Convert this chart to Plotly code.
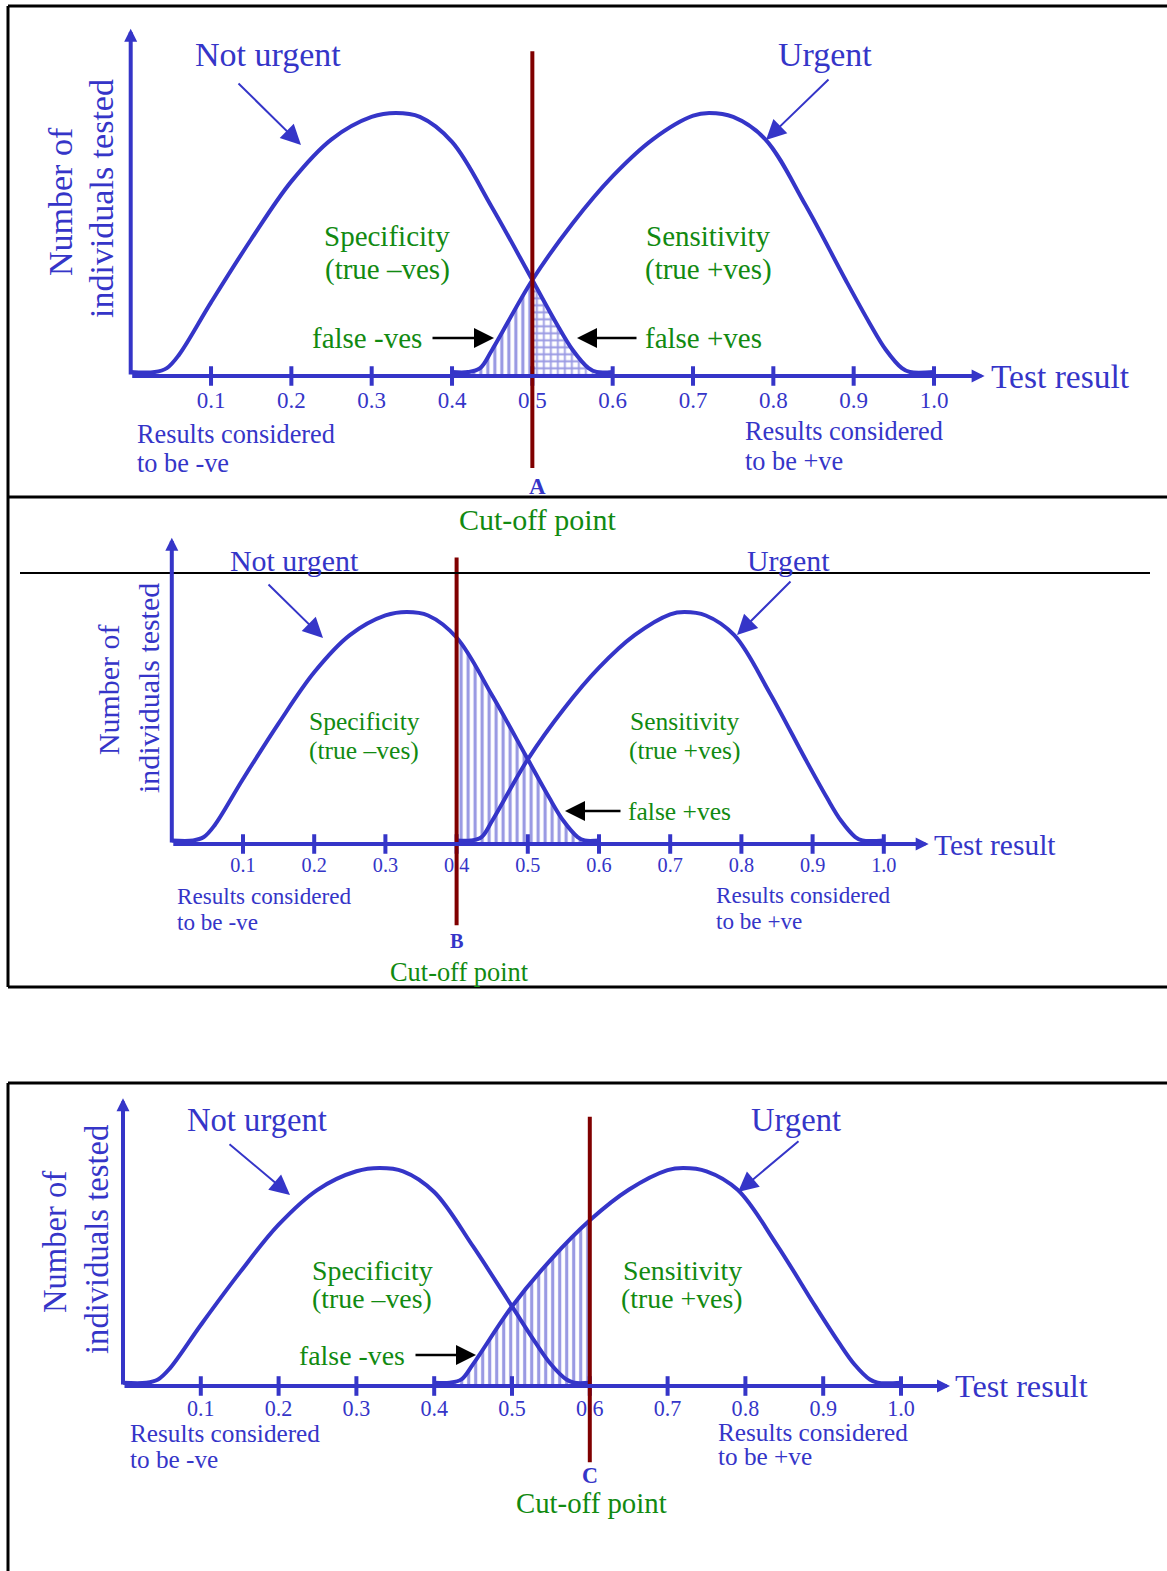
import plotly.graph_objects as go

W, H = 1167, 1571

# ---------------- data ----------------
TICK_VALUES = [0.1, 0.2, 0.3, 0.4, 0.5, 0.6, 0.7, 0.8, 0.9, 1.0]
TICK_LABELS = ["0.1", "0.2", "0.3", "0.4", "0.5", "0.6", "0.7", "0.8", "0.9", "1.0"]

NOT_URGENT_X = [0.00, 0.03, 0.045, 0.06, 0.10, 0.15, 0.20, 0.25, 0.30, 0.33, 0.36, 0.40, 0.45, 0.50, 0.53, 0.55, 0.57, 0.58, 0.60]
NOT_URGENT_Y = [1.5, 1.5, 3.0, 8.0, 28.0, 52.0, 74.0, 90.0, 98.5, 100.0, 98.5, 89.0, 64.0, 36.5, 20.0, 10.0, 3.0, 1.5, 1.5]

URGENT_X = [0.40, 0.42, 0.435, 0.45, 0.50, 0.55, 0.60, 0.65, 0.70, 0.72, 0.75, 0.79, 0.84, 0.89, 0.92, 0.94, 0.96, 0.97, 1.00]
URGENT_Y = [1.5, 1.5, 3.0, 10.0, 36.5, 58.0, 76.0, 90.0, 99.0, 100.0, 98.5, 90.0, 65.0, 36.5, 20.0, 10.0, 3.0, 1.5, 1.5]

CUTOFFS = [0.5, 0.4, 0.6]
CUTOFF_LETTERS = ["A", "B", "C"]

# hatched regions per panel: (curve, side relative to cut-off, pattern)
HATCHES = [
    [("urgent", "left", "|"), ("not", "right", "+")],
    [("not", "right", "|")],
    [("urgent", "left", "|")],
]

# ---------------- styles ----------------
BLUE = "#3535C8"
GREEN = "#118A11"
DARKRED = "#800000"
FONT = "Liberation Serif, Times New Roman, serif"

X_RANGE = [-0.1, 1.15]
Y_RANGE = [-45, 140]
X_ARROW_END = 1.063
Y_ARROW_END = 132
CUT_Y = [-35, 123.5]

PANELS = [
    dict(x0=130.7, xs=803.3, yb=376, ys=2.63, s=1.0,
         nu=(268, 55), nu_arrow=((237, 82), (301, 145)),
         ur=(825, 55), ur_arrow=((830, 78), (766, 140)),
         spec=(387, 236, 269), sens=(708, 236, 269),
         fneg=((367, 338), (431, 338), (494, 338)),
         fpos=((703, 338), (638, 338), (577, 338)),
         test=(989, 376), res_neg=(135, 434, 464), res_pos=(743, 432, 461),
         letter=(537, 486), cut=(538, 519), ylab=((60, 202), (102, 199))),
    dict(x0=171.8, xs=712.0, yb=844, ys=2.32, s=0.88,
         nu=(294, 560), nu_arrow=((267, 583), (323, 638)),
         ur=(788, 560), ur_arrow=((792, 580), (737, 635)),
         spec=(364, 721, 750), sens=(684, 721, 750),
         fneg=None,
         fpos=((680, 811), (622, 811), (565, 811)),
         test=(932, 845), res_neg=(175, 896, 922), res_pos=(714, 895, 921),
         letter=(457, 941), cut=(459, 972), ylab=((108, 690), (148, 688))),
    dict(x0=123.0, xs=778.0, yb=1386, ys=2.18, s=0.96,
         nu=(257, 1120), nu_arrow=((228, 1143), (290, 1195)),
         ur=(796, 1120), ur_arrow=((800, 1140), (738, 1192)),
         spec=(372, 1270, 1298), sens=(682, 1270, 1298),
         fneg=((352, 1355), (414, 1355), (476, 1355)),
         fpos=None,
         test=(953, 1386), res_neg=(128, 1433, 1459), res_pos=(716, 1432, 1456),
         letter=(590, 1475), cut=(591, 1503), ylab=((55, 1242), (97, 1240))),
]


def P(xpx, ypx):
    return xpx / W, 1 - ypx / H


fig = go.Figure()
annotations = []
shapes = []


def text(t, xpx, ypx, size, color, xanchor="center", angle=0):
    px, py = P(xpx, ypx)
    annotations.append(dict(text=t, x=px, y=py, xref="paper", yref="paper",
                            xanchor=xanchor, yanchor="middle", showarrow=False,
                            textangle=angle,
                            font=dict(family=FONT, size=size, color=color)))


def arrow(tail, head, color, width, size):
    hx, hy = P(*head)
    annotations.append(dict(text="", x=hx, y=hy, xref="paper", yref="paper",
                            ax=tail[0] - head[0], ay=tail[1] - head[1],
                            showarrow=True, arrowhead=2, arrowsize=size,
                            arrowwidth=width, arrowcolor=color))


curves = {"not": (NOT_URGENT_X, NOT_URGENT_Y), "urgent": (URGENT_X, URGENT_Y)}

for i, p in enumerate(PANELS):
    n = "" if i == 0 else str(i + 1)
    xa, ya = "x" + n, "y" + n
    s = p["s"]
    cut = CUTOFFS[i]

    dx0 = (p["x0"] + X_RANGE[0] * p["xs"]) / W
    dx1 = (p["x0"] + X_RANGE[1] * p["xs"]) / W
    dy0 = 1 - (p["yb"] - Y_RANGE[0] * p["ys"]) / H
    dy1 = 1 - (p["yb"] - Y_RANGE[1] * p["ys"]) / H
    axpos = 1 - p["yb"] / H

    fig.layout["xaxis" + n] = dict(domain=[dx0, dx1], range=X_RANGE, anchor="free",
                                   position=axpos, showgrid=False, zeroline=False,
                                   showline=False, ticks="", tickvals=TICK_VALUES,
                                   ticktext=TICK_LABELS, ticklabelstandoff=int(8 * s),
                                   tickfont=dict(family=FONT, size=23 * s, color=BLUE),
                                   fixedrange=True)
    fig.layout["yaxis" + n] = dict(domain=[dy0, dy1], range=Y_RANGE, anchor=xa,
                                   visible=False, fixedrange=True)

    # hatched areas
    for cname, side, shape in HATCHES[i]:
        cx, cy = curves[cname]
        if side == "left":
            pts = [(a, b) for a, b in zip(cx, cy) if a <= cut]
        else:
            pts = [(a, b) for a, b in zip(cx, cy) if a >= cut]
        fig.add_trace(go.Scatter(x=[a for a, _ in pts], y=[b for _, b in pts],
                                 xaxis=xa, yaxis=ya, mode="lines",
                                 line=dict(width=0, shape="spline"),
                                 fill="tozeroy", fillcolor="rgba(0,0,0,0)",
                                 fillpattern=dict(shape=shape, fgcolor=BLUE,
                                                  size=7, solidity=0.45),
                                 hoverinfo="skip", showlegend=False))

    # curves
    for cname in ("not", "urgent"):
        cx, cy = curves[cname]
        fig.add_trace(go.Scatter(x=cx, y=cy, xaxis=xa, yaxis=ya, mode="lines",
                                 line=dict(color=BLUE, width=4, shape="spline"),
                                 hoverinfo="skip", showlegend=False))

    # tick marks
    fig.add_trace(go.Scatter(x=TICK_VALUES, y=[0] * len(TICK_VALUES), xaxis=xa, yaxis=ya,
                             mode="markers",
                             marker=dict(symbol="line-ns", size=14,
                                         line=dict(color=BLUE, width=4)),
                             hoverinfo="skip", showlegend=False))

    # axes with arrowheads
    annotations.append(dict(text="", x=X_ARROW_END, y=0, ax=0, ay=0, xref=xa, yref=ya,
                            axref=xa, ayref=ya, showarrow=True, arrowhead=2,
                            arrowsize=0.65, arrowwidth=4, arrowcolor=BLUE))
    annotations.append(dict(text="", x=0, y=Y_ARROW_END, ax=0, ay=0, xref=xa, yref=ya,
                            axref=xa, ayref=ya, showarrow=True, arrowhead=2,
                            arrowsize=0.65, arrowwidth=4, arrowcolor=BLUE))

    # cut-off line
    shapes.append(dict(type="line", xref=xa, yref=ya, x0=cut, x1=cut,
                       y0=CUT_Y[0], y1=CUT_Y[1],
                       line=dict(color=DARKRED, width=4), layer="above"))

    # texts
    text("Not urgent", *p["nu"], 34 * s, BLUE)
    arrow(p["nu_arrow"][0], p["nu_arrow"][1], BLUE, 2, 2.0)
    text("Urgent", *p["ur"], 34 * s, BLUE)
    arrow(p["ur_arrow"][0], p["ur_arrow"][1], BLUE, 2, 2.0)
    text("Specificity", p["spec"][0], p["spec"][1], 29 * s, GREEN)
    text("(true \u2013ves)", p["spec"][0], p["spec"][2], 29 * s, GREEN)
    text("Sensitivity", p["sens"][0], p["sens"][1], 29 * s, GREEN)
    text("(true +ves)", p["sens"][0], p["sens"][2], 29 * s, GREEN)
    if p["fneg"]:
        text("false -ves", *p["fneg"][0], 29 * s, GREEN)
        arrow(p["fneg"][1], p["fneg"][2], "black", 2.5, 1.6)
    if p["fpos"]:
        text("false +ves", *p["fpos"][0], 29 * s, GREEN)
        arrow(p["fpos"][1], p["fpos"][2], "black", 2.5, 1.6)
    text("Test result", *p["test"], 33.5 * s, BLUE, xanchor="left")
    text("Results considered", p["res_neg"][0], p["res_neg"][1], 26.3 * s, BLUE, xanchor="left")
    text("to be -ve", p["res_neg"][0], p["res_neg"][2], 26.3 * s, BLUE, xanchor="left")
    text("Results considered", p["res_pos"][0], p["res_pos"][1], 26.3 * s, BLUE, xanchor="left")
    text("to be +ve", p["res_pos"][0], p["res_pos"][2], 26.3 * s, BLUE, xanchor="left")
    text("<b>" + CUTOFF_LETTERS[i] + "</b>", *p["letter"], 23 * s, BLUE)
    text("Cut-off point", *p["cut"], 30 * s, GREEN)
    text("Number of", *p["ylab"][0], 34 * s, BLUE, angle=-90)
    text("individuals tested", *p["ylab"][1], 34 * s, BLUE, angle=-90)


def hline(ypx, x0px, x1px, width=3, color="black"):
    shapes.append(dict(type="line", xref="paper", yref="paper",
                       x0=x0px / W, x1=x1px / W, y0=1 - ypx / H, y1=1 - ypx / H,
                       line=dict(color=color, width=width), layer="above"))


def vline(xpx, y0px, y1px, width=3, color="black"):
    shapes.append(dict(type="line", xref="paper", yref="paper",
                       x0=xpx / W, x1=xpx / W, y0=1 - y0px / H, y1=1 - y1px / H,
                       line=dict(color=color, width=width), layer="above"))


# frames
hline(6, 8, W)
vline(8, 6, 497)
hline(497, 8, W)
vline(8, 497, 987)
hline(987, 8, W)
hline(573, 20, 1150, width=2)
hline(1083, 8, W)
vline(8, 1083, H)

fig.update_layout(width=W, height=H, margin=dict(l=0, r=0, t=0, b=0),
                  paper_bgcolor="white", plot_bgcolor="rgba(0,0,0,0)",
                  showlegend=False, annotations=annotations, shapes=shapes)

fig.write_html("out.html", config={"displayModeBar": False},
               post_script="document.body.style.margin='0';document.body.style.overflow='hidden';")
